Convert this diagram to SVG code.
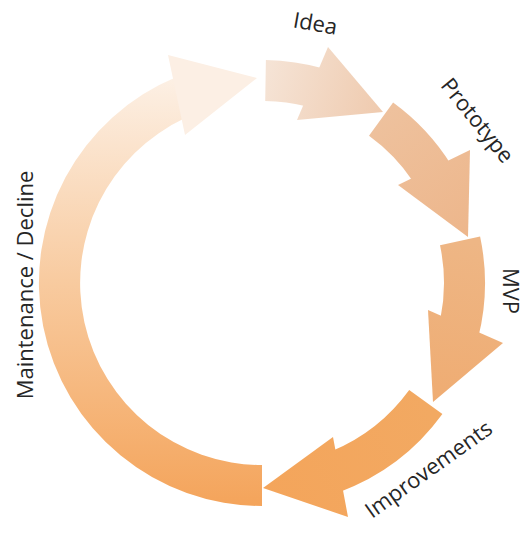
<svg xmlns="http://www.w3.org/2000/svg" width="530" height="540" viewBox="0 0 530 540">
  <style>
    .lbl { font-family: "Open Sans", "Liberation Sans", sans-serif; font-size: 22px; fill: #262626; text-anchor: middle; }
    .head { stroke: none; }
  </style>
  <defs>
    <linearGradient id="gMaint" gradientUnits="userSpaceOnUse" x1="0" y1="505" x2="0" y2="55">
      <stop offset="0" stop-color="#F4A45B"/>
      <stop offset="0.5" stop-color="#F8CBA0"/>
      <stop offset="1" stop-color="#FDF4EC"/>
    </linearGradient>
    <linearGradient id="gIdea" gradientUnits="userSpaceOnUse" x1="265" y1="80" x2="383" y2="112">
      <stop offset="0" stop-color="#F5E3D5"/>
      <stop offset="1" stop-color="#EFCAAE"/>
    </linearGradient>
    <linearGradient id="gProto" gradientUnits="userSpaceOnUse" x1="380" y1="118" x2="468" y2="237">
      <stop offset="0" stop-color="#EEC19D"/>
      <stop offset="1" stop-color="#EDB68B"/>
    </linearGradient>
    <linearGradient id="gMvp" gradientUnits="userSpaceOnUse" x1="460" y1="240" x2="433" y2="402">
      <stop offset="0" stop-color="#EEB685"/>
      <stop offset="1" stop-color="#EFAC72"/>
    </linearGradient>
    <linearGradient id="gImp" gradientUnits="userSpaceOnUse" x1="425" y1="402" x2="263" y2="488">
      <stop offset="0" stop-color="#F2A962"/>
      <stop offset="1" stop-color="#F4A55B"/>
    </linearGradient>
  </defs>

  <g id="connectors">
    <g id="arrow-maintenance">
      <path fill="url(#gMaint)" d="M 262,506 A 223 223 0 0 1 177.0,76.8 L 185.1,118.1 A 182 182 0 0 0 262,465 Z"/>
      <polygon class="head" fill="#FCEFE4" stroke="#EADCD0" stroke-width="0.8" points="168,55 257,78 185,135"/>
    </g>
    <g id="arrow-idea">
      <path fill="url(#gIdea)" d="M 265.9,60.0 A 223 223 0 0 1 323.5,68.6 L 307.0,106.6 A 182 182 0 0 0 265.2,101.0 Z"/>
      <polygon class="head" fill="url(#gIdea)" points="328,47 383,112 297,120"/>
    </g>
    <g id="arrow-prototype">
      <path fill="url(#gProto)" d="M 393.1,102.6 A 223 223 0 0 1 451.1,164.8 L 412.9,181.2 A 182 182 0 0 0 369.0,135.8 Z"/>
      <polygon class="head" fill="url(#gProto)" points="470,150 468,237 398,185"/>
    </g>
    <g id="arrow-mvp">
      <path fill="url(#gMvp)" d="M 480.1,236.6 A 223 223 0 0 1 478.3,337.3 L 440.3,319.6 A 182 182 0 0 0 440.0,245.2 Z"/>
      <polygon class="head" fill="url(#gMvp)" points="428,310 503,343 433,402"/>
    </g>
    <g id="arrow-improvements">
      <path fill="url(#gImp)" d="M 442.4,414.1 A 223 223 0 0 1 338.6,492.4 L 331.4,451.3 A 182 182 0 0 0 409.2,390.0 Z"/>
      <polygon class="head" fill="url(#gImp)" points="333,437 348,517 263,488"/>
    </g>
  </g>

  <g id="node-idea">
    <text class="lbl" transform="translate(314,31) rotate(10)">Idea</text>
  </g>
  <g id="node-prototype">
    <text class="lbl" transform="translate(471.5,125.2) rotate(51)">Prototype</text>
  </g>
  <g id="node-mvp">
    <text class="lbl" transform="translate(503,291) rotate(90)">MVP</text>
  </g>
  <g id="node-improvements">
    <text class="lbl" transform="translate(433,475.5) rotate(-35.5)">Improvements</text>
  </g>
  <g id="node-maintenance">
    <text class="lbl" transform="translate(33,285) rotate(-90)">Maintenance / Decline</text>
  </g>
</svg>
